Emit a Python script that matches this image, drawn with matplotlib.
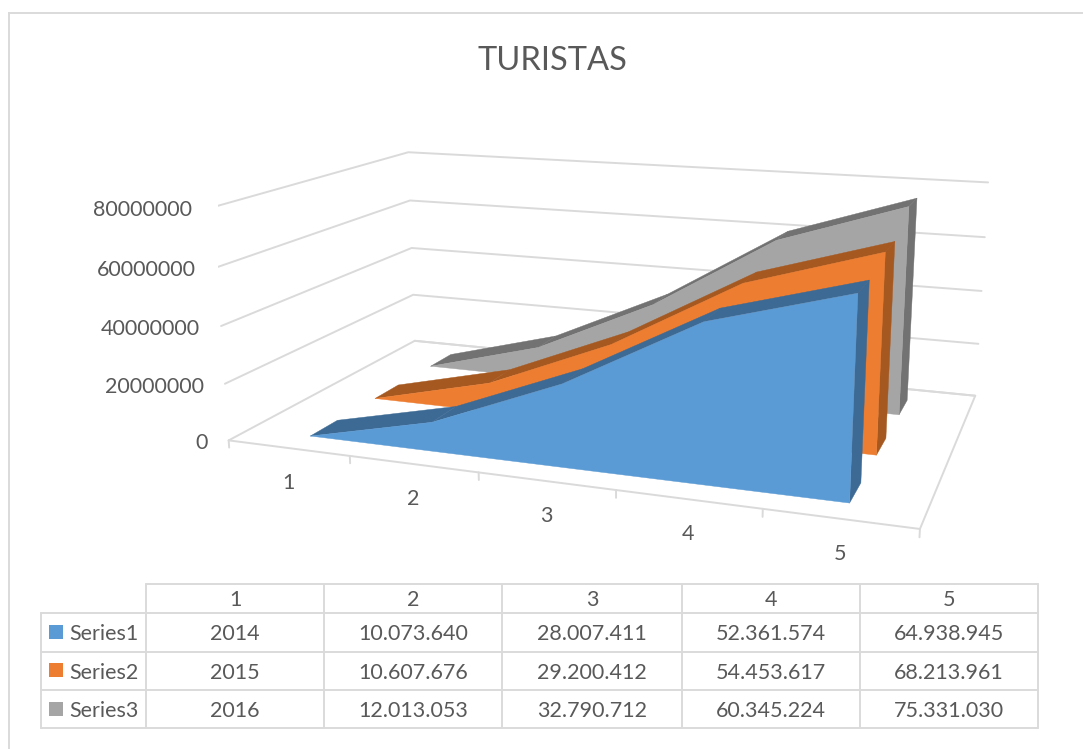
import numpy as np
import matplotlib
matplotlib.use("Agg")
import matplotlib.pyplot as plt
from matplotlib.patches import Rectangle
from mpl_toolkits.mplot3d import proj3d
from mpl_toolkits.mplot3d.art3d import Poly3DCollection

plt.rcParams['font.family'] = ['Lato', 'DejaVu Sans']

W = 1083
H = 749
TEXT = "#595959"
GRID = "#DADADA"
FS = 15.5

title = "TURISTAS"
categories = [1, 2, 3, 4, 5]
series_names = ["Series1", "Series2", "Series3"]
series1 = [2014, 10073640, 28007411, 52361574, 64938945]
series2 = [2015, 10607676, 29200412, 54453617, 68213961]
series3 = [2016, 12013053, 32790712, 60345224, 75331030]
z_ticks = [0, 20000000, 40000000, 60000000, 80000000]

colors = ["#5B9BD5", "#ED7D31", "#A5A5A5"]
dark_colors = ["#3D6A94", "#A5581F", "#727272"]

all_series = [series1, series2, series3]

fig = plt.figure(figsize=(W / 100, H / 100), dpi=100)

# camera fitted against the box corners of the picture
scale = 4229.28
cx = 619.38
cy = 307.66
ax = fig.add_axes([0, 0, 1, 1], projection="3d")
ax.patch.set_alpha(0)
ax.set_axis_off()
ax.computed_zorder = False
ax.view_init(elev=13.912, azim=-70.398)
ax.set_proj_type("persp", focal_length=0.35144)
ax.set_box_aspect((1, 0.5881, 0.34462))
x_min, x_max = 0.5, 5.5
y_min, y_max = 0, 3
z_min, z_max = 0, 80000000
ax.set_xlim(x_min, x_max)
ax.set_ylim(y_min, y_max)
ax.set_zlim(z_min, z_max)

vl = ax.viewLim
left_px = cx + scale * vl.x0
top_px = cy - scale * vl.y1
size_px = scale * (vl.x1 - vl.x0)
ax.set_position([left_px / W, 1 - (top_px + size_px) / H, size_px / W, size_px / H])


def to_pixels(x, y, z):
    u, v, _ = proj3d.proj_transform(x, y, z, ax.get_proj())
    return cx + scale * u, cy - scale * v


def line3d(xs, ys, zs):
    ax.plot(xs, ys, zs, color=GRID, lw=1.4, zorder=1, solid_capstyle="round")


def face(verts, color, z):
    poly = Poly3DCollection([verts], facecolor=color, edgecolor=color, linewidth=0.3, zorder=z)
    ax.add_collection3d(poly, autolim=False)


# walls and floor
for v in z_ticks:
    line3d([x_min, x_min, x_max], [y_min, y_max, y_max], [v, v, v])
line3d([x_min, x_max, x_max, x_min], [y_min, y_min, y_max, y_max], [0, 0, 0, 0])

tick_len = z_max * 0.032
for x in np.arange(x_min, x_max + 0.5):
    line3d([x, x], [y_min, y_min], [0, -tick_len])

# back series first so the front ones cover them
for i in [2, 1, 0]:
    y0 = i + 0.3
    y1 = i + 0.7
    vals = all_series[i]
    base = 10 + (2 - i) * 10
    for k in range(len(categories) - 1):
        face([(categories[k], y0, vals[k]), (categories[k + 1], y0, vals[k + 1]),
              (categories[k + 1], y1, vals[k + 1]), (categories[k], y1, vals[k])],
             dark_colors[i], base)
    last = categories[-1]
    face([(last, y0, 0), (last, y1, 0), (last, y1, vals[-1]), (last, y0, vals[-1])],
         dark_colors[i], base + 1)
    front = [(c, y0, v) for c, v in zip(categories, vals)]
    front += [(last, y0, 0), (categories[0], y0, 0)]
    face(front, colors[i], base + 2)

# title, labels, frame and data table in pixel coordinates
top = fig.add_axes([0, 0, 1, 1], facecolor="none")
top.set_xlim(0, W)
top.set_ylim(H, 0)
top.set_axis_off()

for v in z_ticks:
    px, py = to_pixels(x_min, y_min, v)
    top.text(px - 21, py + 9, str(v), ha="right", va="baseline", color=TEXT, fontsize=FS)
for c in categories:
    px, py = to_pixels(c, y_min, 0)
    top.text(px, py + 41, str(c), ha="center", va="baseline", color=TEXT, fontsize=FS)

top.plot([9, 9], [13, H], color=GRID, lw=1.4)
top.plot([9, W], [13, 13], color=GRID, lw=1.4)
top.text(552, 70, title, ha="center", va="baseline", color=TEXT, fontsize=23.5)

col_x = [41, 146, 324, 502, 682, 860, 1038]
row_y = [584, 613, 652, 690, 728]
base_y = [640, 679, 717]
key_y = [625, 663, 702]

tbl = dict(color=GRID, lw=1.4, solid_capstyle="round")
top.plot([col_x[1], col_x[-1]], [row_y[0], row_y[0]], **tbl)
for y in row_y[1:]:
    top.plot([col_x[0], col_x[-1]], [y, y], **tbl)
top.plot([col_x[0], col_x[0]], [row_y[1], row_y[-1]], **tbl)
for x in col_x[1:]:
    top.plot([x, x], [row_y[0], row_y[-1]], **tbl)

for j, c in enumerate(categories):
    top.text((col_x[j + 1] + col_x[j + 2]) / 2, 606, str(c),
             ha="center", va="baseline", color=TEXT, fontsize=FS)


def fmt(v):
    if v < 10000:
        return str(v)
    return f"{v:,}".replace(",", ".")


for i, name in enumerate(series_names):
    top.add_patch(Rectangle((49, key_y[i]), 14, 14, facecolor=colors[i], edgecolor="none"))
    top.text(69, base_y[i], name, ha="left", va="baseline", color=TEXT, fontsize=FS)
    for j, v in enumerate(all_series[i]):
        top.text((col_x[j + 1] + col_x[j + 2]) / 2, base_y[i], fmt(v),
                 ha="center", va="baseline", color=TEXT, fontsize=FS)

fig.savefig("out.png", dpi=100)
